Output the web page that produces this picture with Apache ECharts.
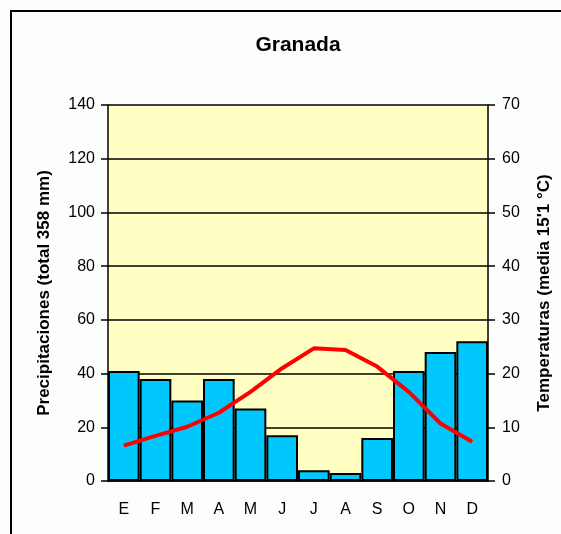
<!DOCTYPE html>
<html>
<head>
<meta charset="utf-8">
<script src="https://cdn.jsdelivr.net/npm/echarts@6/dist/echarts.min.js"></script>
<style>
  html, body { margin: 0; padding: 0; background: #fcfefc; overflow: hidden; }
  #chart { width: 561px; height: 534px; }
</style>
</head>
<body>
<div id="chart"></div>
<script>
// Climograma de Granada: precipitación mensual (barras) y temperatura media (línea)
const months = ['E', 'F', 'M', 'A', 'M', 'J', 'J', 'A', 'S', 'O', 'N', 'D'];
const precipitation = [41, 38, 30, 38, 27, 17, 4, 3, 16, 41, 48, 52];
const temperature = [6.6, 8.4, 10.1, 12.7, 16.6, 21.0, 24.7, 24.4, 21.3, 16.6, 10.7, 7.3];
const precipTicks = { min: 0, max: 140, interval: 20 };
const tempTicks = { min: 0, max: 70, interval: 10 };

const font = 'Liberation Sans, Arial, sans-serif';
const chart = echarts.init(document.getElementById('chart'), null, { renderer: 'canvas' });

chart.setOption({
  backgroundColor: '#fcfefc',
  animation: false,
  title: {
    text: 'Granada',
    left: 293,
    textAlign: 'center',
    top: 30,
    textStyle: { fontFamily: font, fontSize: 21, fontWeight: 'bold', color: '#000' }
  },
  graphic: [{
    type: 'rect',
    shape: { x: 11, y: 11, width: 600, height: 600 },
    style: { fill: 'none', stroke: '#000', lineWidth: 2 },
    z: 100
  }],
  grid: {
    left: 108, right: 73, top: 105, bottom: 53,
    outerBoundsMode: 'none',
    show: true, backgroundColor: '#ffffc4', borderWidth: 0
  },
  xAxis: {
    type: 'category',
    data: months,
    boundaryGap: true,
    axisLine: { lineStyle: { color: '#000', width: 1.5 } },
    axisTick: { length: 7, lineStyle: { color: '#000', width: 1.5 } },
    axisLabel: { margin: 21, fontFamily: font, fontSize: 16, color: '#000' }
  },
  yAxis: [{
    type: 'value',
    min: precipTicks.min, max: precipTicks.max, interval: precipTicks.interval,
    name: 'Precipitaciones (total 358 mm)',
    nameLocation: 'middle',
    nameGap: 55,
    nameTextStyle: { fontFamily: font, fontSize: 17, fontWeight: 'bold', color: '#000' },
    axisLine: { show: true, lineStyle: { color: '#000', width: 1.5 } },
    axisTick: { show: true, length: 7, lineStyle: { color: '#000', width: 1.5 } },
    axisLabel: { margin: 13, fontFamily: font, fontSize: 16, color: '#000' },
    splitLine: { show: true, lineStyle: { color: '#000', width: 1.5 } }
  }, {
    type: 'value',
    min: tempTicks.min, max: tempTicks.max, interval: tempTicks.interval,
    position: 'right',
    name: 'Temperaturas (media 15\'1 °C)',
    nameLocation: 'middle',
    nameGap: 48,
    nameRotate: 90,
    nameTextStyle: { fontFamily: font, fontSize: 17, fontWeight: 'bold', color: '#000' },
    axisLine: { show: true, lineStyle: { color: '#000', width: 1.5 } },
    axisTick: { show: true, length: 7, lineStyle: { color: '#000', width: 1.5 } },
    axisLabel: { margin: 14, fontFamily: font, fontSize: 16, color: '#000' },
    splitLine: { show: false }
  }],
  series: [{
    type: 'bar',
    data: precipitation,
    yAxisIndex: 0,
    barWidth: '100%',
    barCategoryGap: 0,
    itemStyle: { color: '#00c8ff', borderColor: '#000', borderWidth: 2 },
    z: 3
  }, {
    type: 'line',
    data: temperature,
    yAxisIndex: 1,
    showSymbol: false,
    symbol: 'none',
    lineStyle: { color: '#ff0000', width: 4 },
    z: 4
  }]
});
</script>
</body>
</html>
